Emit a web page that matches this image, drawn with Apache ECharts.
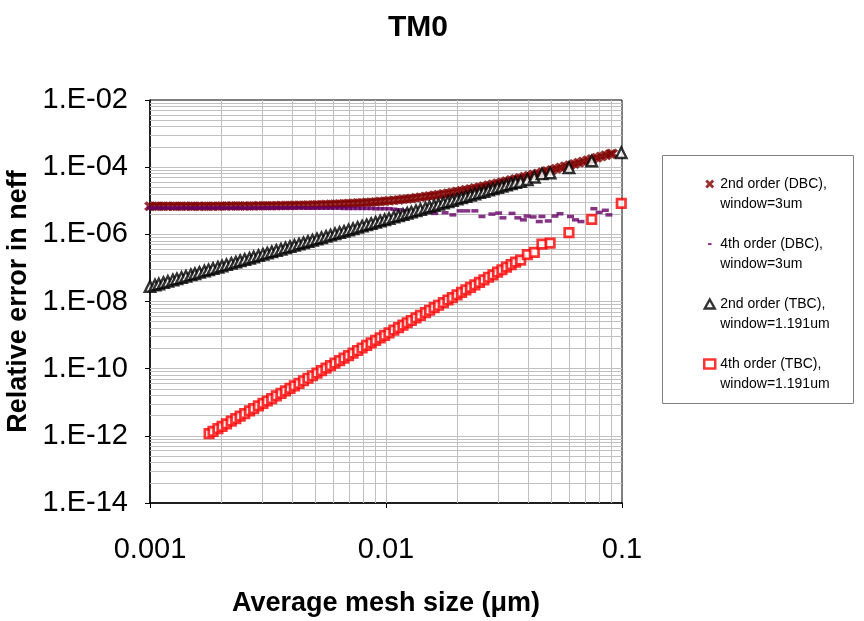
<!DOCTYPE html>
<html>
<head>
<meta charset="utf-8">
<script src="https://cdn.jsdelivr.net/npm/echarts@6/dist/echarts.min.js"></script>
<style>
  html, body { margin: 0; padding: 0; background: #fff; }
  #chart { width: 864px; height: 621px; }
</style>
</head>
<body>
<div id="chart"></div>
<script>
// 2nd order (DBC), window=3um  -- mesh size / relative error
const xDBC2 = [0.00100, 0.00105, 0.00109, 0.00114, 0.00119, 0.00125, 0.00130, 0.00136, 0.00142, 0.00149,
  0.00155, 0.00162, 0.00170, 0.00177, 0.00185, 0.00194, 0.00202, 0.00211, 0.00221, 0.00231,
  0.00241, 0.00252, 0.00264, 0.00275, 0.00288, 0.00301, 0.00314, 0.00328, 0.00343, 0.00359,
  0.00375, 0.00392, 0.00409, 0.00428, 0.00447, 0.00467, 0.00488, 0.00510, 0.00533, 0.00557,
  0.00582, 0.00608, 0.00636, 0.00664, 0.00694, 0.00725, 0.00758, 0.00792, 0.00828, 0.00865,
  0.00904, 0.00945, 0.00987, 0.0103, 0.0108, 0.0113, 0.0118, 0.0123, 0.0128, 0.0134,
  0.0140, 0.0147, 0.0153, 0.0160, 0.0167, 0.0175, 0.0183, 0.0191, 0.0200, 0.0209,
  0.0218, 0.0228, 0.0238, 0.0249, 0.0260, 0.0272, 0.0284, 0.0297, 0.0310, 0.0324,
  0.0339, 0.0354, 0.0370, 0.0387, 0.0404, 0.0422, 0.0441, 0.0461, 0.0482, 0.0504,
  0.0526, 0.0550, 0.0575, 0.0601, 0.0628, 0.0656, 0.0685, 0.0716, 0.0748, 0.0782,
  0.0817, 0.0854, 0.0892, 0.0909]
const yDBC2 = [6.83e-6, 6.83e-6, 6.84e-6, 6.84e-6, 6.84e-6, 6.85e-6, 6.85e-6, 6.86e-6, 6.86e-6, 6.87e-6,
  6.87e-6, 6.88e-6, 6.89e-6, 6.89e-6, 6.90e-6, 6.91e-6, 6.92e-6, 6.93e-6, 6.95e-6, 6.96e-6,
  6.97e-6, 6.99e-6, 7.01e-6, 7.03e-6, 7.05e-6, 7.07e-6, 7.10e-6, 7.12e-6, 7.15e-6, 7.19e-6,
  7.22e-6, 7.26e-6, 7.30e-6, 7.35e-6, 7.40e-6, 7.45e-6, 7.51e-6, 7.58e-6, 7.65e-6, 7.73e-6,
  7.82e-6, 7.91e-6, 8.01e-6, 8.12e-6, 8.24e-6, 8.38e-6, 8.52e-6, 8.68e-6, 8.86e-6, 9.04e-6,
  9.25e-6, 9.48e-6, 9.72e-6, 1.00e-5, 1.03e-5, 1.06e-5, 1.10e-5, 1.13e-5, 1.17e-5, 1.22e-5,
  1.27e-5, 1.33e-5, 1.38e-5, 1.45e-5, 1.52e-5, 1.60e-5, 1.68e-5, 1.77e-5, 1.88e-5, 1.99e-5,
  2.11e-5, 2.24e-5, 2.38e-5, 2.54e-5, 2.71e-5, 2.90e-5, 3.10e-5, 3.33e-5, 3.56e-5, 3.83e-5,
  4.13e-5, 4.44e-5, 4.79e-5, 5.17e-5, 5.58e-5, 6.02e-5, 6.51e-5, 7.06e-5, 7.65e-5, 8.30e-5,
  8.98e-5, 9.76e-5, 1.06e-4, 1.15e-4, 1.25e-4, 1.36e-4, 1.48e-4, 1.61e-4, 1.75e-4, 1.90e-4,
  2.07e-4, 2.26e-4, 2.45e-4, 2.55e-4]

// 4th order (DBC), window=3um
const xDBC4 = [0.00100, 0.00105, 0.00109, 0.00114, 0.00119, 0.00125, 0.00130, 0.00136, 0.00142, 0.00149,
  0.00155, 0.00162, 0.00170, 0.00177, 0.00185, 0.00194, 0.00202, 0.00211, 0.00221, 0.00231,
  0.00241, 0.00252, 0.00264, 0.00275, 0.00288, 0.00301, 0.00314, 0.00328, 0.00343, 0.00359,
  0.00375, 0.00392, 0.00409, 0.00428, 0.00447, 0.00467, 0.00488, 0.00510, 0.00533, 0.00557,
  0.00582, 0.00608, 0.00636, 0.00664, 0.00694, 0.00725, 0.00758, 0.00792, 0.00828, 0.00865,
  0.00904, 0.00945, 0.00987, 0.0103, 0.0108, 0.0113, 0.0122, 0.0133, 0.0146, 0.0161,
  0.0178, 0.0192, 0.0206, 0.0220, 0.0238, 0.0255, 0.0281, 0.0300, 0.0313, 0.0342,
  0.0362, 0.0382, 0.0396, 0.0420, 0.0446, 0.0458, 0.0487, 0.0520, 0.0546, 0.0605,
  0.0635, 0.0670, 0.0760, 0.0800, 0.0850, 0.0880]
const yDBC4 = [6.1e-6, 6.1e-6, 6.1e-6, 6.1e-6, 6.1e-6, 6.1e-6, 6.1e-6, 6.1e-6, 6.1e-6, 6.1e-6,
  6.1e-6, 6.1e-6, 6.1e-6, 6.1e-6, 6.1e-6, 6.1e-6, 6.1e-6, 6.1e-6, 6.1e-6, 6.1e-6,
  6.1e-6, 6.1e-6, 6.1e-6, 6.1e-6, 6.1e-6, 6.1e-6, 6.1e-6, 6.1e-6, 6.1e-6, 6.1e-6,
  6.1e-6, 6.1e-6, 6.1e-6, 6.1e-6, 6.1e-6, 6.0e-6, 6.0e-6, 6.0e-6, 6.0e-6, 6.0e-6,
  6.0e-6, 6.0e-6, 6.0e-6, 5.9e-6, 5.9e-6, 5.9e-6, 5.9e-6, 5.9e-6, 5.9e-6, 5.9e-6,
  5.8e-6, 5.8e-6, 5.8e-6, 5.8e-6, 5.6e-6, 5.4e-6, 5.1e-6, 4.8e-6, 4.5e-6, 4.2e-6,
  4.4e-6, 3.8e-6, 5.0e-6, 5.0e-6, 5.0e-6, 3.4e-6, 4.0e-6, 4.3e-6, 3.1e-6, 4.2e-6,
  3.1e-6, 2.7e-6, 3.5e-6, 3.3e-6, 2.4e-6, 3.4e-6, 2.5e-6, 3.5e-6, 4.1e-6, 3.4e-6,
  2.7e-6, 2.4e-6, 5.8e-6, 4.5e-6, 5.2e-6, 3.8e-6]

// 2nd order (TBC), window=1.191um
const xTBC2 = [0.00100, 0.00105, 0.00109, 0.00114, 0.00119, 0.00125, 0.00130, 0.00136, 0.00142, 0.00149,
  0.00155, 0.00162, 0.00170, 0.00177, 0.00185, 0.00194, 0.00202, 0.00211, 0.00221, 0.00231,
  0.00241, 0.00252, 0.00264, 0.00275, 0.00288, 0.00301, 0.00314, 0.00328, 0.00343, 0.00359,
  0.00375, 0.00392, 0.00409, 0.00428, 0.00447, 0.00467, 0.00488, 0.00510, 0.00533, 0.00557,
  0.00582, 0.00608, 0.00636, 0.00664, 0.00694, 0.00725, 0.00758, 0.00792, 0.00828, 0.00865,
  0.00904, 0.00945, 0.00987, 0.0103, 0.0108, 0.0113, 0.0118, 0.0123, 0.0128, 0.0134,
  0.0140, 0.0147, 0.0153, 0.0160, 0.0167, 0.0175, 0.0183, 0.0191, 0.0200, 0.0209,
  0.0218, 0.0228, 0.0238, 0.0249, 0.0260, 0.0272, 0.0284, 0.0297, 0.0310, 0.0324,
  0.0339, 0.0354, 0.0372, 0.0397, 0.0425, 0.0458, 0.0496, 0.0596, 0.0744, 0.0993]
const yTBC2 = [2.80e-8, 3.09e-8, 3.33e-8, 3.64e-8, 3.97e-8, 4.38e-8, 4.73e-8, 5.18e-8, 5.65e-8, 6.22e-8,
  6.73e-8, 7.35e-8, 8.09e-8, 8.77e-8, 9.58e-8, 1.05e-7, 1.14e-7, 1.25e-7, 1.37e-7, 1.49e-7,
  1.63e-7, 1.78e-7, 1.95e-7, 2.12e-7, 2.32e-7, 2.54e-7, 2.76e-7, 3.01e-7, 3.29e-7, 3.61e-7,
  3.94e-7, 4.30e-7, 4.68e-7, 5.13e-7, 5.59e-7, 6.11e-7, 6.67e-7, 7.28e-7, 7.95e-7, 8.69e-7,
  9.48e-7, 1.04e-6, 1.13e-6, 1.23e-6, 1.35e-6, 1.47e-6, 1.61e-6, 1.76e-6, 1.92e-6, 2.09e-6,
  2.29e-6, 2.50e-6, 2.73e-6, 2.97e-6, 3.27e-6, 3.58e-6, 3.90e-6, 4.24e-6, 4.59e-6, 5.03e-6,
  5.49e-6, 6.05e-6, 6.55e-6, 7.17e-6, 7.81e-6, 8.58e-6, 9.38e-6, 1.02e-5, 1.12e-5, 1.22e-5,
  1.33e-5, 1.46e-5, 1.59e-5, 1.74e-5, 1.89e-5, 2.07e-5, 2.26e-5, 2.47e-5, 2.69e-5, 2.94e-5,
  3.22e-5, 3.51e-5, 3.70e-5, 4.20e-5, 5.00e-5, 6.30e-5, 6.70e-5, 9.60e-5, 1.52e-4, 2.70e-4]

// 4th order (TBC), window=1.191um
const xTBC4 = [0.00178, 0.00185, 0.00194, 0.00202, 0.00211, 0.00221, 0.00231,
  0.00241, 0.00252, 0.00264, 0.00275, 0.00288, 0.00301, 0.00314, 0.00328, 0.00343, 0.00359,
  0.00375, 0.00392, 0.00409, 0.00428, 0.00447, 0.00467, 0.00488, 0.00510, 0.00533, 0.00557,
  0.00582, 0.00608, 0.00636, 0.00664, 0.00694, 0.00725, 0.00758, 0.00792, 0.00828, 0.00865,
  0.00904, 0.00945, 0.00987, 0.0103, 0.0108, 0.0113, 0.0118, 0.0123, 0.0128, 0.0134,
  0.0140, 0.0147, 0.0153, 0.0160, 0.0167, 0.0175, 0.0183, 0.0191, 0.0200, 0.0209,
  0.0218, 0.0228, 0.0238, 0.0249, 0.0260, 0.0272, 0.0284, 0.0297, 0.0310, 0.0324,
  0.0339, 0.0354, 0.0372, 0.0397, 0.0425, 0.0458, 0.0496, 0.0596, 0.0744, 0.0993]
const yTBC4 = [1.17e-12, 1.36e-12, 1.64e-12, 1.92e-12, 2.28e-12, 2.74e-12, 3.26e-12,
  3.85e-12, 4.59e-12, 5.51e-12, 6.46e-12, 7.75e-12, 9.22e-12, 1.09e-11, 1.29e-11, 1.54e-11, 1.84e-11,
  2.19e-11, 2.60e-11, 3.08e-11, 3.67e-11, 4.36e-11, 5.18e-11, 6.16e-11, 7.32e-11, 8.71e-11, 1.04e-10,
  1.23e-10, 1.46e-10, 1.74e-10, 2.07e-10, 2.46e-10, 2.92e-10, 3.48e-10, 4.13e-10, 4.92e-10, 5.84e-10,
  6.95e-10, 8.27e-10, 9.81e-10, 1.16e-9, 1.40e-9, 1.67e-9, 1.98e-9, 2.33e-9, 2.72e-9, 3.26e-9,
  3.87e-9, 4.69e-9, 5.49e-9, 6.55e-9, 7.74e-9, 9.31e-9, 1.11e-8, 1.31e-8, 1.57e-8, 1.87e-8,
  2.21e-8, 2.63e-8, 3.12e-8, 3.72e-8, 4.41e-8, 5.27e-8, 6.24e-8, 7.45e-8, 8.81e-8, 1.05e-7,
  1.25e-7, 1.48e-7, 1.70e-7, 2.50e-7, 2.90e-7, 5.10e-7, 5.50e-7, 1.12e-6, 2.80e-6, 8.30e-6]

const seriesNames = [
  '2nd order (DBC),\nwindow=3um',
  '4th order (DBC),\nwindow=3um',
  '2nd order (TBC),\nwindow=1.191um',
  '4th order (TBC),\nwindow=1.191um',
]
const xTickLabels = { '-3': '0.001', '-2': '0.01', '-1': '0.1' }

// grid lines: x is a plain base-10 log grid (2..9 per decade),
// y has a major every 2 decades and minors at k^2 times the lower major
const minorSteps = [2, 3, 4, 5, 6, 7, 8, 9]
const xDecades = [-3, -2]
const yMajors = [-14, -12, -10, -8, -6, -4]

const FONT = 'Liberation Sans, Arial, sans-serif'
const GRID_COLOR = '#c0c0c0'

const chart = echarts.init(document.getElementById('chart'))

const pairs = (xs, ys) => xs.map((x, i) => [x, ys[i]])

const vLines = []
xDecades.forEach(d => {
  if (d > -3) vLines.push({ xAxis: Math.pow(10, d) })
  minorSteps.forEach(k => vLines.push({ xAxis: k * Math.pow(10, d) }))
})
const hLines = []
yMajors.forEach(d => {
  if (d > -14) hLines.push({ yAxis: Math.pow(10, d) })
  minorSteps.forEach(k => hLines.push({ yAxis: k * k * Math.pow(10, d) }))
})

const xMark = 'path://M0,2.3 L2.3,0 L5,2.7 L7.7,0 L10,2.3 L7.3,5 L10,7.7 L7.7,10 L5,7.3 L2.3,10 L0,7.7 L2.7,5 Z'
const dashIcon = 'path://M0,0 M10,10 M3,4 L7,4 L7,6.2 L3,6.2 Z'

const option = {
  animation: false,
  backgroundColor: '#fff',
  textStyle: { fontFamily: FONT },
  title: {
    text: 'TM0',
    left: 383,
    top: 8,
    textStyle: { fontFamily: FONT, fontWeight: 'bold', fontSize: 30, color: '#000' },
  },
  grid: {
    left: 150, top: 100, width: 472, height: 403,
    containLabel: false, outerBoundsMode: 'none',
    show: true, borderColor: '#000', borderWidth: 1,
  },
  graphic: [{
    type: 'rect',
    shape: { x: 662.5, y: 155.5, width: 191, height: 248 },
    style: { fill: '#fff', stroke: '#808080', lineWidth: 1 },
    z: 0,
  }],
  legend: {
    orient: 'vertical',
    left: 703,
    top: 154,
    padding: 0,
    itemWidth: 11,
    itemHeight: 9,
    itemGap: 0,
    formatter: name => ' \n' + name,
    textStyle: { fontFamily: FONT, fontSize: 14, color: '#000', lineHeight: 20 },
    data: [
      { name: seriesNames[0], icon: xMark, itemStyle: { color: '#800000' } },
      { name: seriesNames[1], icon: dashIcon, itemStyle: { color: '#660066' } },
      { name: seriesNames[2], icon: 'path://M5,0 L10,9 L0,9 Z', itemStyle: { color: '#fff', borderColor: '#000', borderWidth: 2.4 } },
      { name: seriesNames[3], icon: 'rect', itemStyle: { color: '#fff', borderColor: '#ff0000', borderWidth: 2.5 } },
    ],
  },
  xAxis: {
    type: 'log',
    logBase: 10,
    min: 0.001,
    max: 0.1,
    interval: 1,
    name: 'Average mesh size (\u03bcm)',
    nameLocation: 'middle',
    nameGap: 87,
    nameTextStyle: { fontFamily: FONT, fontWeight: 'bold', fontSize: 27, color: '#000' },
    axisLine: { lineStyle: { color: '#000', width: 1.5 } },
    axisTick: { show: true, inside: false, length: 5, lineStyle: { color: '#000' } },
    axisLabel: {
      fontSize: 29, color: '#000', fontFamily: FONT, margin: 32,
      formatter: v => xTickLabels[String(Math.round(Math.log10(v)))] || '',
    },
    splitLine: { show: false },
  },
  yAxis: {
    type: 'log',
    logBase: 10,
    min: 1e-14,
    max: 1e-2,
    interval: 2,
    name: 'Relative error in neff',
    nameLocation: 'middle',
    nameGap: 117,
    nameTextStyle: { fontFamily: FONT, fontWeight: 'bold', fontSize: 27, color: '#000' },
    axisLine: { lineStyle: { color: '#000', width: 1.5 } },
    axisTick: { show: true, inside: false, length: 5, lineStyle: { color: '#000' } },
    axisLabel: {
      fontSize: 29, color: '#000', fontFamily: FONT, margin: 22,
      formatter: v => {
        const e = Math.round(Math.log10(v))
        return '1.E' + (e < 0 ? '-' : '+') + String(Math.abs(e)).padStart(2, '0')
      },
    },
    splitLine: { show: false },
  },
  series: [
    {
      name: seriesNames[0],
      type: 'scatter',
      data: pairs(xDBC2, yDBC2),
      symbol: xMark,
      symbolSize: [12, 10],
      itemStyle: { color: '#800000' },
      markLine: {
        silent: true,
        z: 1,
        precision: 20,
        symbol: ['none', 'none'],
        label: { show: false },
        lineStyle: { color: GRID_COLOR, width: 1, type: 'solid' },
        data: vLines.concat(hLines),
      },
    },
    {
      name: seriesNames[1],
      type: 'scatter',
      data: pairs(xDBC4, yDBC4),
      symbol: 'rect',
      symbolSize: [7, 3.5],
      itemStyle: { color: '#660066' },
    },
    {
      name: seriesNames[2],
      type: 'scatter',
      data: pairs(xTBC2, yTBC2),
      symbol: 'triangle',
      symbolSize: 10.5,
      itemStyle: { color: '#fff', borderColor: '#000', borderWidth: 2.4 },
    },
    {
      name: seriesNames[3],
      type: 'scatter',
      data: pairs(xTBC4, yTBC4),
      symbol: 'rect',
      symbolSize: 8.5,
      itemStyle: { color: '#fff', borderColor: '#ff0000', borderWidth: 2.7 },
    },
  ],
}

chart.setOption(option)
</script>
</body>
</html>
